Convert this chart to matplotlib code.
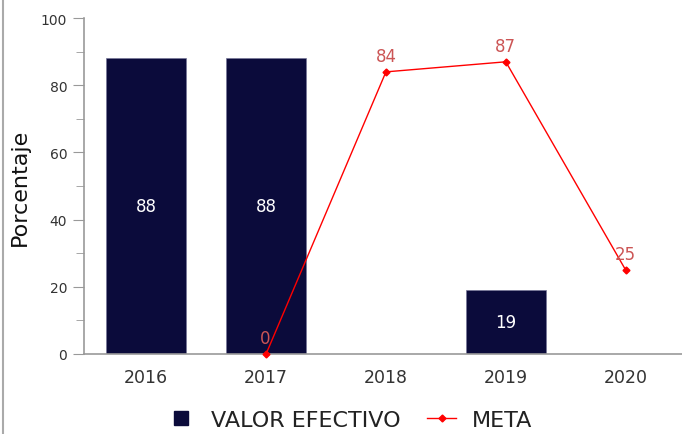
import matplotlib
matplotlib.use("Agg")
import matplotlib.pyplot as plt
from matplotlib.lines import Line2D
from matplotlib.ticker import MultipleLocator

years = ["2016", "2017", "2018", "2019", "2020"]
valor_efectivo = [88, 88, None, 19, None]
meta_years = ["2017", "2018", "2019", "2020"]
meta = [0, 84, 87, 25]

bar_color = "#0b0b3b"
line_color = "#ff0000"
label_red = "#cc5555"
axis_gray = "#999999"


def plotChart(fig_name):
    """draws bars and the target line"""

    fig = plt.figure(figsize=(6.82, 4.35), dpi=100)
    ax = fig.add_axes([0.123, 0.184, 0.877, 0.772])

    pos = {y: i for i, y in enumerate(years)}
    for y, v in zip(years, valor_efectivo):
        if v is None:
            continue
        ax.bar(pos[y], v, width=0.667, color=bar_color, edgecolor="#777799",
               linewidth=0.5, zorder=2)
        ax.text(pos[y], v / 2, str(v), color="white", fontsize=12,
                ha="center", va="center", zorder=3)

    mx = [pos[y] for y in meta_years]
    ax.plot(mx, meta, color=line_color, linewidth=1, marker="D",
            markersize=3.5, zorder=4, clip_on=False)
    for x, v in zip(mx, meta):
        ax.annotate(str(v), (x, v), xytext=(-1 if v == 0 else 0, 5),
                    textcoords="offset points", color=label_red, fontsize=12,
                    ha="center", va="bottom", zorder=5)

    ax.set_xlim(-0.52, 4.47)
    ax.set_ylim(0, 100)
    ax.set_xticks(range(len(years)))
    ax.set_xticklabels(years)
    ax.yaxis.set_major_locator(MultipleLocator(20))
    ax.yaxis.set_minor_locator(MultipleLocator(10))
    ax.tick_params(axis="x", length=0, pad=10, labelsize=12.5, labelcolor="#333333")
    ax.tick_params(axis="y", which="major", length=8, color=axis_gray,
                   labelsize=10, labelcolor="#333333", pad=4)
    ax.tick_params(axis="y", which="minor", length=6, color=axis_gray)
    for s in ["top", "right"]:
        ax.spines[s].set_visible(False)
    for s in ["left", "bottom"]:
        ax.spines[s].set_color(axis_gray)
        ax.spines[s].set_linewidth(1.2)
    ax.set_ylabel("Porcentaje", fontsize=16, color="#111111", labelpad=8)

    handles = [
        Line2D([], [], linestyle="none", marker="s", markersize=10,
               color=bar_color),
        Line2D([], [], color=line_color, linewidth=1, marker="D",
               markersize=3.5),
    ]
    fig.legend(handles, ["VALOR EFECTIVO", "META"], loc="center",
               bbox_to_anchor=(0.512, 0.032), ncol=2, frameon=False,
               fontsize=16, handlelength=1.3, handletextpad=0.7,
               columnspacing=1.2, labelcolor="#222222")

    fig.add_artist(Line2D([0.005, 0.005], [0, 1], color="#aaaaaa",
                          linewidth=1.5, transform=fig.transFigure))
    fig.savefig(fig_name, dpi=100)


plotChart("out.png")
